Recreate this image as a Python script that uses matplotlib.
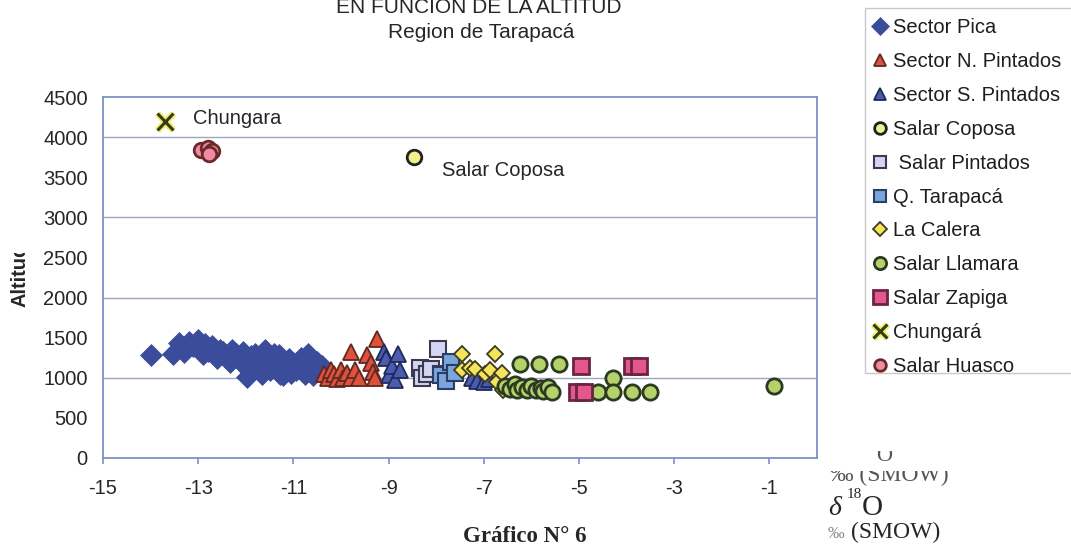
import matplotlib
matplotlib.use("Agg")
import matplotlib.pyplot as plt
from matplotlib.transforms import Bbox, TransformedBbox
from matplotlib.patches import Rectangle
import matplotlib.patheffects as pe

# ---------------- data (delta18O, altitude) ----------------
pica_x = [-14.0, -13.52, -13.4, -13.35, -13.3, -13.2, -13.1, -13.0, -12.95, -12.9, -12.85, -12.8,
          -12.7, -12.65, -12.6, -12.55, -12.47, -12.4, -12.33, -12.3, -12.2, -12.15, -12.1, -12.05,
          -12.0, -11.98, -11.92, -11.9, -11.85, -11.8, -11.75, -11.7, -11.65, -11.6, -11.55, -11.5,
          -11.45, -11.4, -11.35, -11.3, -11.28, -11.21, -11.15, -11.1, -11.05, -11.0, -10.95, -10.9,
          -10.85, -10.79, -10.75, -10.7, -10.65, -10.58, -10.5, -10.44, -10.4]
pica_y = [1280, 1300, 1430, 1370, 1320, 1450, 1400, 1470, 1360, 1300, 1420, 1330,
          1390, 1320, 1250, 1350, 1320, 1260, 1200, 1340, 1300, 1250, 1200, 1320,
          1150, 1010, 1080, 1270, 1130, 1300, 1200, 1130, 1050, 1340, 1260, 1100,
          1200, 1300, 1120, 1280, 1050, 1030, 1150, 1230, 1060, 1180, 1100, 1200,
          1250, 1120, 1050, 1300, 1200, 1030, 1190, 1080, 1150]

npint_x = [-10.35, -10.28, -10.22, -10.15, -10.08, -10.0, -9.95, -9.88, -9.8, -9.78, -9.7, -9.62,
           -9.46, -9.36, -9.32, -9.25, -9.28]
npint_y = [1050, 1000, 1100, 1040, 980, 1090, 1000, 1060, 1320, 990, 1100, 1000,
           1280, 1180, 1070, 1480, 1000]

spint_x = [-9.1, -9.05, -9.0, -8.92, -8.87, -8.8, -8.76, -7.25, -7.15, -7.0, -6.9]
spint_y = [1320, 1250, 1030, 1140, 970, 1300, 1090, 990, 960, 940, 980]

coposa_x = [-8.47]
coposa_y = [3760]

salpint_x = [-8.35, -8.3, -8.2, -8.1, -7.97, -7.9]
salpint_y = [1120, 1000, 1050, 1110, 1360, 1050]

tarapaca_x = [-7.9, -7.8, -7.68, -7.6]
tarapaca_y = [1030, 960, 1200, 1060]

calera_x = [-7.45, -7.45, -7.3, -7.18, -6.98, -6.87, -6.76, -6.73, -6.62, -6.6]
calera_y = [1300, 1090, 1120, 1110, 1050, 1090, 1300, 950, 1060, 840]

llamara_x = [-6.24, -5.85, -5.43, -6.55, -6.45, -6.35, -6.3, -6.2, -6.1, -6.0, -5.9, -5.8,
             -5.75, -5.65, -5.57, -4.6, -4.28, -4.28, -3.89, -3.5, -0.9]
llamara_y = [1170, 1170, 1165, 900, 860, 920, 850, 880, 840, 900, 850, 870,
             830, 880, 825, 820, 990, 820, 820, 820, 900]

zapiga_x = [-5.05, -4.9, -4.95, -3.88, -3.75]
zapiga_y = [820, 820, 1150, 1150, 1140]

chungara_x = [-13.7]
chungara_y = [4200]

huasco_x = [-12.95, -12.8, -12.7, -12.78]
huasco_y = [3840, 3870, 3830, 3790]

x_ticks = [-15, -13, -11, -9, -7, -5, -3, -1]
y_ticks = [0, 500, 1000, 1500, 2000, 2500, 3000, 3500, 4000, 4500]

# ---------------- figure ----------------
W, H = 1071, 555
fig = plt.figure(figsize=(W / 100, H / 100), dpi=100)
fig.patch.set_facecolor("white")

def fx(px):
    return px / W

def fy(py):
    return 1 - py / H

ax = fig.add_axes([fx(103), fy(457.7), fx(817) - fx(103), fy(97.3) - fy(457.7)])
ax.set_xlim(-15, 0)
ax.set_ylim(0, 4500)

SANS = "Liberation Sans"
SERIF = "Liberation Serif"
TXT = "#262626"

series = [
    ("Sector Pica", pica_x, pica_y, dict(marker="D", ms=11, mfc="#3b4c9b", mec="#3b4c9b", mew=0.5)),
    ("Sector N. Pintados", npint_x, npint_y, dict(marker="^", ms=11.5, mfc="#e0503c", mec="#5e2a22", mew=1.3)),
    ("Sector S. Pintados", spint_x, spint_y, dict(marker="^", ms=11.5, mfc="#4b5bb0", mec="#1f2a5a", mew=1.3)),
    ("Salar Coposa", coposa_x, coposa_y, dict(marker="o", ms=10.5, mfc="#f2f28a", mec="#222222", mew=2.0)),
    (" Salar Pintados", salpint_x, salpint_y, dict(marker="s", ms=11.5, mfc="#d4d4f4", mec="#3a3a50", mew=1.5)),
    ("Q. Tarapacá", tarapaca_x, tarapaca_y, dict(marker="s", ms=11.5, mfc="#7aa6dc", mec="#2b3c66", mew=1.5)),
    ("La Calera", calera_x, calera_y, dict(marker="D", ms=8.5, mfc="#f3e45a", mec="#3b3b22", mew=1.3)),
    ("Salar Llamara", llamara_x, llamara_y, dict(marker="o", ms=11, mfc="#b3d36a", mec="#2c3a22", mew=2.0)),
    ("Salar Zapiga", zapiga_x, zapiga_y, dict(marker="s", ms=12, mfc="#e2588e", mec="#6a2440", mew=2.0)),
    ("Chungará", chungara_x, chungara_y, dict(marker="x", ms=12, mfc="#3a3a10", mec="#3a3a10", mew=2.2,
                                              path_effects=[pe.withStroke(linewidth=5, foreground="#eeee77")])),
    ("Salar Huasco", huasco_x, huasco_y, dict(marker="o", ms=10.5, mfc="#f08aa5", mec="#6a2a2a", mew=2.0)),
]

handles = []
for label, xs, ys, style in series:
    (h,) = ax.plot(xs, ys, ls="none", label=label, zorder=3, **style)
    handles.append(h)

# axes styling
for side in ["left", "bottom", "top", "right"]:
    ax.spines[side].set_color("#7b92c6")
    ax.spines[side].set_linewidth(1.3)

ax.set_xticks(x_ticks)
ax.set_xticklabels([str(v) for v in x_ticks])
ax.set_yticks(y_ticks)
ax.set_yticklabels([str(v) for v in y_ticks])
ax.tick_params(axis="x", length=4, width=1.2, color="#7b92c6", pad=11,
               labelsize=14.5, labelcolor=TXT)
ax.tick_params(axis="y", length=0, pad=11, labelsize=14.5, labelcolor=TXT)
for lab in ax.get_xticklabels() + ax.get_yticklabels():
    lab.set_fontfamily(SANS)

ax.yaxis.grid(True, color="#9aa6c4", linewidth=1.0)
for gl, v in zip(ax.get_ygridlines(), y_ticks):
    gl.set_visible(v % 1000 == 0 and 0 < v < 4500)
ax.set_axisbelow(True)

# point labels
ax.text(-13.11, 4241, "Chungara", fontsize=14.5, family=SANS, color=TXT, va="center", ha="left")
ax.text(-7.88, 3592, "Salar Coposa", fontsize=14.5, family=SANS, color=TXT, va="center", ha="left")

# y label (end clipped like the reference)
yl = fig.text(fx(20.5), fy(275), "Altitud", rotation=90, fontsize=14.5, fontweight="bold",
              family=SANS, color=TXT, ha="center", va="center", clip_on=True)
yl.set_clip_box(TransformedBbox(Bbox.from_extents(0, 0, fx(60), fy(252.5)), fig.transFigure))

# titles
fig.text(fx(479), fy(13), "EN FUNCION DE LA ALTITUD", fontsize=15, family=SANS, color=TXT,
         ha="center", va="baseline")
fig.text(fx(481), fy(38), "Region de Tarapacá", fontsize=15, family=SANS, color=TXT,
         ha="center", va="baseline")

# legend (frame drawn separately to match the reference box)
leg = ax.legend(handles=handles, loc="upper left", bbox_to_anchor=(fx(865), fy(8)),
                bbox_transform=fig.transFigure, borderaxespad=0, frameon=False,
                handlelength=0.5, handletextpad=0.4, borderpad=0.5, labelspacing=0.74,
                markerscale=0.8, prop={"family": SANS, "size": 14.5})
for t in leg.get_texts():
    t.set_color("#1e1e1e")
fig.patches.append(Rectangle((fx(865), fy(373)), fx(1090) - fx(865), fy(8) - fy(373),
                             transform=fig.transFigure, facecolor="none", edgecolor="#c8c8c8",
                             linewidth=1.0, zorder=0.5))

# delta 18O axis annotation
fig.text(fx(828), fy(515), "δ", fontsize=20, family=SERIF, style="italic", color=TXT, va="baseline")
fig.text(fx(847), fy(498), "18", fontsize=11, family=SERIF, color=TXT, va="baseline")
fig.text(fx(862), fy(515), "O", fontsize=21, family=SERIF, color=TXT, va="baseline")
fig.text(fx(828), fy(538), "‰", fontsize=12, family=SERIF, color="#8a8a8a", va="baseline")
fig.text(fx(851), fy(538), "(SMOW)", fontsize=17, family=SERIF, color=TXT, va="baseline")

# ghost (partially hidden) duplicate of the annotation
g1 = fig.text(fx(876), fy(461), "O", fontsize=16, family=SERIF, color="#555555", va="baseline",
              clip_on=True)
g1.set_clip_box(TransformedBbox(Bbox.from_extents(fx(820), 0, 1, fy(451)), fig.transFigure))
g2 = fig.text(fx(830), fy(481), "‰ (SMOW)", fontsize=17, family=SERIF, color="#555555",
              va="baseline", clip_on=True)
g2.set_clip_box(TransformedBbox(Bbox.from_extents(fx(820), 0, 1, fy(471)), fig.transFigure))

# caption
fig.text(fx(525), fy(542), "Gráfico N° 6", fontsize=16.5, family=SERIF, fontweight="bold",
         color=TXT, ha="center", va="baseline")

fig.savefig("out.png", dpi=100, facecolor="white")
